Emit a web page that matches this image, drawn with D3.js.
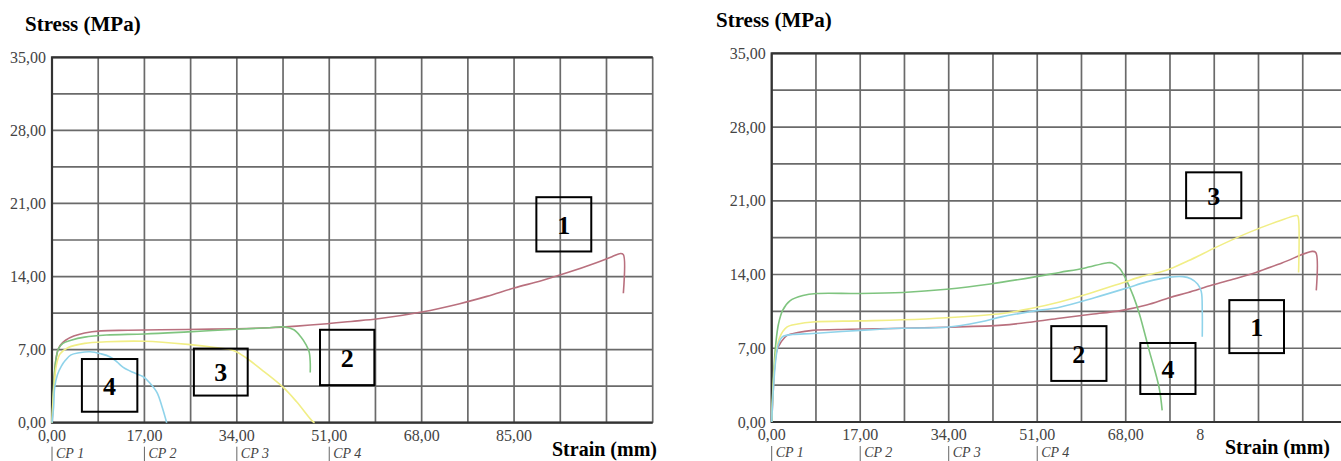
<!DOCTYPE html>
<html>
<head>
<meta charset="utf-8">
<script src="https://cdn.jsdelivr.net/npm/d3@7"></script>
<style>
  html, body { margin: 0; padding: 0; background: #fff; }
  svg { display: block; }
</style>
</head>
<body>
<svg id="chart" width="1341" height="461"></svg>
<script>
// ---------- DATA ----------
const xTickValues = [0, 17, 34, 51, 68, 85];
const xTickLabels = ["0,00", "17,00", "34,00", "51,00", "68,00", "85,00"];
const yTickValues = [0, 7, 14, 21, 28, 35];
const yTickLabels = ["0,00", "7,00", "14,00", "21,00", "28,00", "35,00"];
const specimenLabels = ["CP 1", "CP 2", "CP 3", "CP 4"];
const specimenMarks = [0, 17, 34, 51];
const seriesNames = ["1", "2", "3", "4"];
const seriesColors = ["#b9707e", "#7fc47f", "#f1ee86", "#8fd3ea"];

// Left panel curves [strain, stress]
const leftCP1 = [[0,0],[0.3,3],[0.6,5.5],[1,6.8],[1.5,7.4],[2.5,7.9],[4,8.3],[6,8.6],[9,8.8],[14,8.85],[20,8.9],[27,8.95],[34,9.0],[40,9.1],[45,9.25],[50,9.45],[55,9.7],[60,9.95],[68,10.6],[75,11.4],[80,12.1],[85,12.9],[90,13.6],[95,14.4],[100,15.3],[103,15.9],[104.6,16.2],[105.1,16.1],[105.1,12.4]];
const leftCP2 = [[0,0],[0.3,3.5],[0.7,6],[1.2,7.1],[2,7.6],[3.5,7.9],[6,8.2],[10,8.4],[17,8.5],[25,8.7],[34,8.95],[40,9.1],[42.7,9.18],[44.5,8.9],[45.8,8.2],[46.8,7.4],[47.3,6.8],[47.5,5.8],[47.5,4.8]];
const leftCP3 = [[0,0],[0.3,3],[0.8,5.5],[1.5,6.6],[3,7.2],[6,7.6],[10,7.75],[17,7.8],[25,7.5],[30,7.2],[33.5,6.9],[36,6.1],[39,4.9],[42.5,3.4],[45,2.0],[47.8,0.2],[48.3,0]];
const leftCP4 = [[0,0],[0.3,1.5],[0.5,3.4],[1,4.6],[1.7,5.4],[2.5,6.0],[3.5,6.5],[5,6.7],[7,6.8],[9,6.6],[10.7,6.3],[12,5.8],[13.1,5.3],[15,4.8],[16.8,4.4],[18,3.8],[19.3,2.9],[20.2,1.6],[21.1,0]];

// Right panel curves [strain, stress]
const rightCP1 = [[0,0],[0.3,3],[0.6,5.5],[1,6.8],[1.8,7.6],[2.9,8.2],[5,8.5],[7.9,8.7],[15,8.8],[25.1,8.9],[33.6,9.0],[44.3,9.2],[50,9.5],[55.3,9.85],[61,10.2],[67.3,10.6],[72,11.1],[76.4,11.8],[80,12.3],[84.6,13.0],[89,13.6],[93,14.2],[98,15.1],[103.8,16.2],[104.5,16.1],[104.6,12.5]];
const rightCP2 = [[0,0],[0.3,4],[0.8,7.5],[1.3,9.3],[2.1,10.6],[3.5,11.5],[6,12.0],[8.6,12.2],[17,12.2],[25.2,12.3],[33.6,12.6],[42,13.1],[50.8,13.8],[55.3,14.2],[60,14.6],[64.3,15.1],[65.4,15.1],[66.8,14.6],[68.1,13.5],[69.5,11.9],[70.6,10.3],[72.5,6.8],[74.4,3.3],[75,1.1]];
const rightCP3 = [[0,0],[0.3,3.5],[0.8,6.5],[1.5,8.0],[2.9,9.0],[5,9.3],[7.9,9.5],[17,9.6],[25.1,9.7],[33.6,9.9],[44.3,10.3],[50,10.8],[55.3,11.4],[61,12.2],[67.3,13.2],[71,13.8],[75.8,14.4],[80,15.3],[85.4,16.6],[91.7,18.0],[97,19.0],[100.9,19.6],[101.1,19.5],[101.2,14.2]];
const rightCP4 = [[0,0],[0.3,3],[0.8,6],[1.3,7.4],[2.1,8.1],[4,8.3],[7.9,8.4],[17,8.7],[25.1,8.9],[33.6,9.0],[40,9.5],[44.3,10.0],[50,10.5],[55.3,10.9],[62,11.8],[68.1,12.7],[72,13.3],[76.4,13.75],[79,13.8],[80.5,13.6],[81.8,13.1],[82.5,12.4],[82.7,10.5],[82.7,8.1]];

// Annotation boxes in data units: [x0, x1, yTop, yBottom]
const leftBoxes = [[89.1, 99.2, 21.6, 16.4], [49.3, 59.3, 8.9, 3.6], [26.1, 36.0, 7.1, 2.6], [5.5, 15.7, 6.1, 1.05]];
const rightBoxes = [[87.9, 98.4, 11.57, 6.54], [53.7, 64.3, 9.1, 3.9], [79.6, 90.2, 23.7, 19.35], [70.8, 81.4, 7.5, 2.66]];

// ---------- DRAW ----------
const svg = d3.select("#chart");
const serif = "'Liberation Serif', 'Times New Roman', serif";
const xMax = 110.5, yMax = 35;

function panel(cfg) {
  const x = d3.scaleLinear().domain([0, xMax]).range([cfg.x0, cfg.x1]);
  const y = d3.scaleLinear().domain([0, yMax]).range([cfg.y0, cfg.y1]);
  const g = svg.append("g");

  const xGrid = d3.range(0, xMax + 0.01, 8.5);
  const yGrid = d3.range(0, yMax + 0.01, 3.5);

  g.append("g").selectAll("line").data(xGrid).join("line")
    .attr("x1", d => x(d)).attr("x2", d => x(d))
    .attr("y1", y(0)).attr("y2", y(yMax))
    .attr("stroke", "#6a6a6a").attr("stroke-width", 1.7);
  g.append("g").selectAll("line").data(yGrid).join("line")
    .attr("x1", x(0)).attr("x2", x(xMax))
    .attr("y1", d => y(d)).attr("y2", d => y(d))
    .attr("stroke", "#6a6a6a").attr("stroke-width", 1.7);

  // frame (top, left, bottom)
  g.append("path")
    .attr("d", `M${x(xMax)},${y(yMax)}H${x(0)}V${y(0)}H${x(xMax)}`)
    .attr("fill", "none").attr("stroke", "#333").attr("stroke-width", 2.2);

  // curves
  const line = d3.line().x(d => x(d[0])).y(d => y(d[1])).curve(d3.curveCatmullRom.alpha(0.5));
  cfg.series.forEach((s, i) => {
    g.append("path").datum(s).attr("d", line)
      .attr("fill", "none").attr("stroke", seriesColors[i])
      .attr("stroke-width", 1.6).attr("stroke-linejoin", "round");
  });

  // y tick labels
  g.append("g").selectAll("text").data(yTickValues).join("text")
    .attr("x", x(0) - 6).attr("y", d => y(d)).attr("dy", "0.35em")
    .attr("text-anchor", "end").attr("font-family", serif).attr("font-size", 16)
    .attr("fill", "#444").text((d, i) => yTickLabels[i]);

  // x tick labels
  g.append("g").selectAll("text").data(xTickValues).join("text")
    .attr("x", d => x(d)).attr("y", cfg.y0 + 18)
    .attr("text-anchor", "middle").attr("font-family", serif).attr("font-size", 16)
    .attr("fill", "#444").text((d, i) => xTickLabels[i]);

  // specimen markers
  const sp = g.append("g").selectAll("g").data(specimenMarks).join("g");
  sp.append("line").attr("x1", d => x(d)).attr("x2", d => x(d))
    .attr("y1", cfg.y0 + 24).attr("y2", 461).attr("stroke", "#666").attr("stroke-width", 1);
  sp.append("text").attr("x", d => x(d) + 4).attr("y", cfg.y0 + 35)
    .attr("font-family", serif).attr("font-style", "italic").attr("font-size", 14)
    .attr("fill", "#444").text((d, i) => specimenLabels[i]);

  // annotation boxes
  const bx = g.append("g").selectAll("g").data(cfg.boxes).join("g");
  bx.append("rect")
    .attr("x", d => x(d[0])).attr("y", d => y(d[2]))
    .attr("width", d => x(d[1]) - x(d[0])).attr("height", d => y(d[3]) - y(d[2]))
    .attr("fill", "none").attr("stroke", "#000").attr("stroke-width", 2);
  bx.append("text")
    .attr("x", d => (x(d[0]) + x(d[1])) / 2).attr("y", d => (y(d[2]) + y(d[3])) / 2)
    .attr("dy", "0.36em").attr("text-anchor", "middle")
    .attr("font-family", serif).attr("font-weight", "bold").attr("font-size", 26)
    .attr("fill", "#000").text((d, i) => seriesNames[i]);

  // axis titles
  if (cfg.maskX !== undefined) {
    g.append("rect").attr("x", cfg.maskX).attr("y", cfg.y0 + 4)
      .attr("width", 1341 - cfg.maskX).attr("height", 18).attr("fill", "#fff");
  }
  g.append("text").attr("x", cfg.strainX).attr("y", cfg.strainY)
    .attr("font-family", serif).attr("font-weight", "bold").attr("font-size", 20)
    .attr("fill", "#000").text("Strain (mm)");
  g.append("text").attr("x", cfg.stressX).attr("y", cfg.stressY)
    .attr("font-family", serif).attr("font-weight", "bold").attr("font-size", 21)
    .attr("fill", "#000").text("Stress (MPa)");
}

panel({
  x0: 52, x1: 652.7, y0: 422.7, y1: 57.3,
  series: [leftCP1, leftCP2, leftCP3, leftCP4],
  boxes: leftBoxes,
  strainX: 552, strainY: 456,
  stressX: 25, stressY: 31
});
panel({
  x0: 771.7, x1: 1347, y0: 422, y1: 53.3,
  series: [rightCP1, rightCP2, rightCP3, rightCP4],
  boxes: rightBoxes,
  strainX: 1225, strainY: 454, maskX: 1204.5,
  stressX: 716, stressY: 27
});
</script>
</body>
</html>
